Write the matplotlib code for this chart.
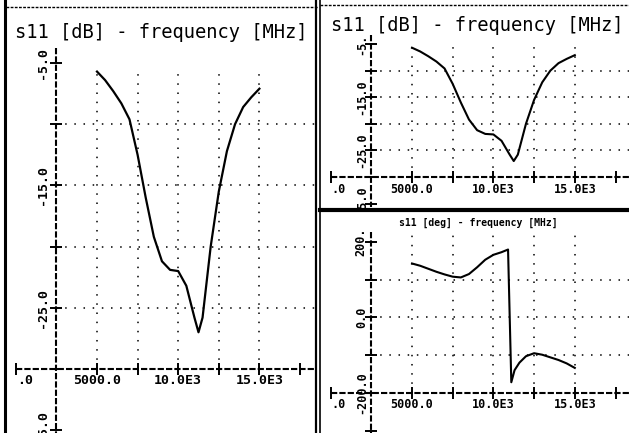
import matplotlib.pyplot as plt
from matplotlib.transforms import offset_copy

W, H = 629, 433

# s11 magnitude (dB) vs frequency (MHz)
freq_db = [5000, 5500, 6000, 6500, 7000, 7500, 8000, 8500, 9000, 9500, 10000,
           10500, 11000, 11250, 11500, 12000, 12500, 13000, 13500, 14000, 14500, 15000]
s11_db = [-5.7, -6.4, -7.3, -8.3, -9.6, -12.5, -16.0, -19.2, -21.2, -21.9, -22.0,
          -23.2, -25.8, -27.0, -25.8, -20.0, -15.5, -12.2, -10.0, -8.6, -7.8, -7.1]

# s11 phase (deg) vs frequency (MHz)
freq_deg = [5000, 5500, 6000, 6500, 7000, 7500, 8000, 8500, 9000, 9500, 10000,
            10500, 10900, 11100, 11300, 11600, 12000, 12500, 13000, 13500, 14000,
            14500, 15000]
s11_deg = [143, 137, 129, 121, 114, 108, 106, 115, 133, 153, 166,
           173, 180, -172, -140, -120, -103, -95, -99, -106, -113,
           -122, -134]

x_ticks = [0, 5000, 7500, 10000, 12500, 15000, 17500]
x_grid = [5000, 7500, 10000, 12500, 15000]
x_labels = {5000: "5000.0", 10000: "10.0E3", 15000: "15.0E3"}

db_ticks = [-5, -10, -15, -20, -25, -30, -35]
db_grid = [-10, -15, -20, -25]
db_labels_left = {-5: "-5.0", -15: "-15.0", -25: "-25.0", -35: "-35.0"}
db_labels_right = {-5: "-5.", -15: "-15.0", -25: "-25.0", -35: "-35.0"}

deg_ticks = [200, 100, 0, -100, -200, -300]
deg_grid = [100, 0, -100]
deg_labels = {200: "200.", 0: "0.0", -200: "-200.0"}

Y_AXIS_AT = 2500
MONO = "DejaVu Sans Mono"
AXIS_LS = (0, (3, 1))
GRID_LS = (0, (1, 5))

fig = plt.figure(figsize=(W / 100, H / 100), dpi=100)

# background in pixel coords for the panel frames
bg = fig.add_axes([0, 0, 1, 1])
bg.set_xlim(0, W)
bg.set_ylim(H, 0)
bg.axis("off")
bg.plot([5, 5], [0, H], color="black", lw=2.2)
bg.plot([6, 318], [7, 7], color="black", lw=1, ls=(0, (2, 1)))
bg.plot([316, 316], [0, H], color="black", lw=1.6)
bg.plot([320, 320], [0, H], color="black", lw=1.2)
bg.plot([320, W], [5, 5], color="black", lw=1, ls=(0, (2, 1)))
bg.plot([320, W], [210, 210], color="black", lw=3)


def panel(box, xlim, ylim, ticks, grid, labels, xaxis_y, y_top, y_bot,
          grid_top, lab_dx, fs):
    x0, y0, x1, y1 = box
    ax = fig.add_axes([x0 / W, 1 - y1 / H, (x1 - x0) / W, (y1 - y0) / H])
    ax.set_xlim(*xlim)
    ax.set_ylim(*ylim)
    ax.axis("off")
    # dotted grid
    for gx in x_grid:
        ax.plot([gx, gx], [xaxis_y, grid_top], color="black", lw=1.1, ls=GRID_LS)
    for gy in grid:
        ax.plot([Y_AXIS_AT, xlim[1]], [gy, gy], color="black", lw=1.1, ls=GRID_LS)
    # axes lines
    ax.plot([0, xlim[1]], [xaxis_y, xaxis_y], color="black", lw=1.5, ls=AXIS_LS)
    ax.plot([Y_AXIS_AT, Y_AXIS_AT], [y_top, y_bot], color="black", lw=1.5, ls=AXIS_LS)
    ax.plot(x_ticks, [xaxis_y] * len(x_ticks), "|", color="black", ms=9, mew=1.4)
    ax.plot([Y_AXIS_AT] * len(ticks), ticks, "_", color="black", ms=9, mew=1.4)
    # tick labels
    below = offset_copy(ax.transData, fig=fig, x=0, y=-12, units="dots")
    for xv, txt in x_labels.items():
        ax.text(xv, xaxis_y, txt, transform=below, ha="center", va="center",
                fontsize=fs, family=MONO, weight="bold")
    ax.text(0, xaxis_y, ".0", transform=offset_copy(below, fig=fig, x=1, units="dots"),
            ha="left", va="center", fontsize=fs, family=MONO, weight="bold")
    left = offset_copy(ax.transData, fig=fig, x=lab_dx, y=0, units="dots")
    for yv, txt in labels.items():
        ax.text(Y_AXIS_AT, yv, txt, transform=left, ha="center", va="center",
                rotation=90, fontsize=fs, family=MONO, weight="bold", clip_on=True)
    return ax


def xlim_for(x0, x1, zero_px, px_per_unit):
    return ((x0 - zero_px) / px_per_unit, (x1 - zero_px) / px_per_unit)


def ylim_for(y0, y1, ref_val, ref_px, px_per_unit):
    return (ref_val - (y1 - ref_px) / px_per_unit, ref_val + (ref_px - y0) / px_per_unit)


# left panel: s11 [dB]
box = (7, 0, 316, H)
ax1 = panel(box, xlim_for(7, 316, 15.8, 40.6 / 2500), ylim_for(0, H, -5, 63, 12.24),
            db_ticks, db_grid, db_labels_left, -30, -3.8, -36, -5.3, -14, 9.5)
ax1.plot(freq_db, s11_db, color="black", lw=1.6)
ax1.text(0.5, 1 - 32 / H, "s11 [dB] - frequency [MHz]", transform=ax1.transAxes,
         ha="center", va="center", fontsize=13.5, family=MONO)

# top right panel: s11 [dB]
box = (322, 34, W, 208)
ax2 = panel(box, xlim_for(322, W, 330.6, 40.7 / 2500), ylim_for(34, 208, -5, 44, 5.32),
            db_ticks, db_grid, db_labels_right, -30, -3.3, -35.6, -4.3, -10, 8.5)
ax2.plot(freq_db, s11_db, color="black", lw=1.5)
fig.text(477 / W, 1 - 25.5 / H, "s11 [dB] - frequency [MHz]", ha="center",
         va="center", fontsize=13.5, family=MONO)

# bottom right panel: s11 [deg]
box = (322, 213, W, H)
ax3 = panel(box, xlim_for(322, W, 330.6, 40.7 / 2500), ylim_for(213, H, 200, 242, 0.377),
            deg_ticks, deg_grid, deg_labels, -200, 226, -320, 226, -10, 8.5)
ax3.plot(freq_deg, s11_deg, color="black", lw=1.5)
fig.text(478 / W, 1 - 223 / H, "s11 [deg] - frequency [MHz]", ha="center",
         va="center", fontsize=7, family=MONO, weight="bold")

fig.savefig("out.png", dpi=100)
